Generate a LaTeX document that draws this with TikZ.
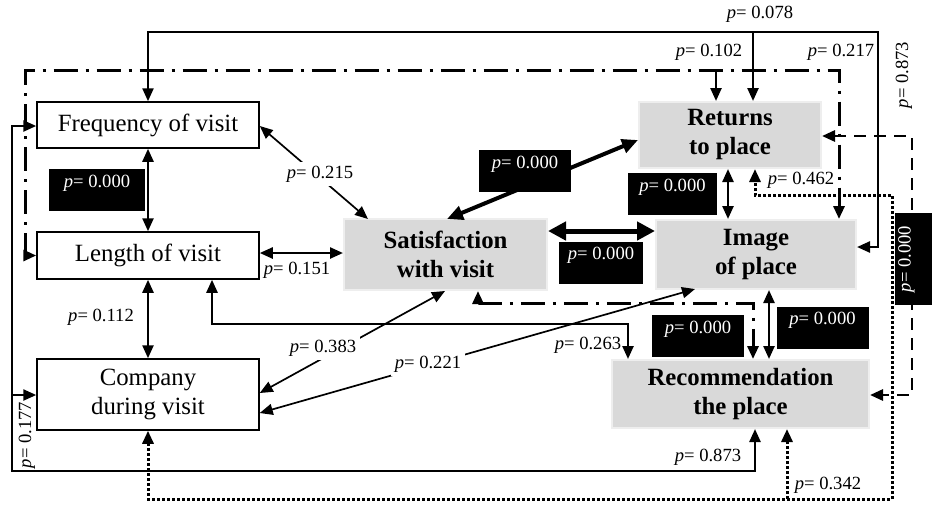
\documentclass[tikz,border=0pt]{standalone}
\usepackage{fontspec}
\setmainfont{Liberation Serif}
\usetikzlibrary{arrows.meta}
\definecolor{boxgray}{RGB}{217,217,217}
\definecolor{edgegray}{RGB}{238,238,238}
\begin{document}
\begin{tikzpicture}[x=0.5pt,y=-0.5pt,
  >={Triangle[length=6.5pt,width=5.5pt]},
  wbox/.style={draw=black, line width=0.75pt, fill=white, align=center, inner sep=0pt,
    font=\fontsize{12.4}{14.5}\selectfont},
  gbox/.style={draw=edgegray, line width=1pt, fill=boxgray, align=center, inner sep=0pt,
    font=\fontsize{12.4}{14.5}\selectfont\bfseries},
  plab/.style={font=\fontsize{9.3}{11}\selectfont, inner sep=1pt},
  wlab/.style={plab, fill=white, inner sep=2pt},
  blab/.style={plab, fill=black, text=white, text height=9pt, text depth=12pt,
    inner xsep=0pt, inner ysep=0pt, minimum width=46pt},
  thinc/.style={line width=0.85pt},
  solc/.style={line width=1.2pt},
  ddash/.style={line width=1.5pt, dash pattern=on 12pt off 4pt on 1.5pt off 4pt},
  dotc/.style={line width=1.5pt, dash pattern=on 1.5pt off 1pt},
  dashc/.style={line width=1.4pt, dash pattern=on 6pt off 4pt},
]
\useasboundingbox (0,0) rectangle (932,505);

% boxes
\node[wbox, minimum width=111pt, minimum height=23pt] (freq) at (148,125) {Frequency of visit};
\node[wbox, minimum width=111pt, minimum height=23.5pt] (length) at (148,255.5) {Length of visit};
\node[wbox, minimum width=111pt, minimum height=35.5pt] (company) at (148,394.5) {Company\\during visit};
\node[gbox, minimum width=101.5pt, minimum height=35.5pt] (sat) at (445.5,254.5) {Satisfaction\\with visit};
\node[gbox, minimum width=91pt, minimum height=33pt] (returns) at (730,135) {Returns\\to place};
\node[gbox, minimum width=100pt, minimum height=34.5pt] (image) at (756,254.5) {Image\\of place};
\node[gbox, minimum width=128.5pt, minimum height=34pt] (rec) at (740.5,394) {Recommendation\\the place};

% top solid line
\coordinate (t1) at (148,32);
\coordinate (t2) at (878,32);
\coordinate (t3) at (753,32);
\coordinate (t4) at (878,247);
\draw[solc,<->] (freq.north) -- (t1) -- (t2) -- (t4) -- (image.east |- t4);
\draw[solc,->] (t3) -- (t3 |- returns.north);
\node[plab] (l078) at (760,14) {\textit{p}= 0.078};
\node[plab, rotate=90] (l873a) at (904,75) {\textit{p}= 0.873};

% dash-dot outer
\coordinate (d1) at (25,255.5);
\coordinate (d2) at (25,70);
\coordinate (d3) at (839,70);
\coordinate (d4) at (716,70);
\draw[ddash,<->] (length.west) -- (d1) -- (d2) -- (d3) -- (d3 |- image.north);
\draw[solc,->] (d4) -- (d4 |- returns.north);
\node[plab] (l102) at (709,52) {\textit{p}= 0.102};
\node[plab] (l217) at (841,52) {\textit{p}= 0.217};

% dash-dot sat - rec
\coordinate (e1) at (478,303);
\coordinate (e2) at (753,303);
\draw[ddash,<->] (e1 |- sat.south) -- (e1) -- (e2) -- (e2 |- rec.north);
\node[blab] (b5) at (698,336) {\textit{p}= 0.000};

% length - rec solid
\coordinate (f1) at (212,324);
\coordinate (f2) at (628,324);
\draw[solc,<->] (f1 |- length.south) -- (f1) -- (f2) -- (f2 |- rec.north);
\node[plab] (l263) at (588,345) {\textit{p}= 0.263};

% bottom solid
\coordinate (g1) at (12,126);
\coordinate (g2) at (12,471);
\coordinate (g3) at (755,471);
\coordinate (g4) at (12,395);
\draw[solc,<->] (freq.west |- g1) -- (g1) -- (g2) -- (g3) -- (g3 |- rec.south);
\draw[solc,->] (g4) -- (company.west |- g4);
\node[plab, rotate=90] (l177) at (27,435) {\textit{p}= 0.177};
\node[plab] (l873b) at (708,457) {\textit{p}= 0.873};

% dotted
\coordinate (h1) at (148,499);
\coordinate (h2) at (892,499);
\coordinate (h3) at (892,195);
\coordinate (h4) at (755,195);
\coordinate (h5) at (787,499);
\draw[dotc,<->] (company.south) -- (h1) -- (h2) -- (h3) -- (h4) -- (h4 |- returns.south);
\draw[dotc,->] (h5) -- (h5 |- rec.south);
\node[plab] (l462) at (801,180) {\textit{p}= 0.462};
\node[plab] (l342) at (828,485) {\textit{p}= 0.342};

% dashed right
\coordinate (k1) at (912,136);
\coordinate (k2) at (912,395);
\draw[dashc,<->] (returns.east |- k1) -- (k1) -- (k2) -- (rec.east |- k2);
\node[blab, rotate=90, text height=8pt, text depth=10.5pt] (b7) at (913,259) {\textit{p}= 0.000};

% straight connectors
\draw[solc,<->] (freq.south) -- (length.north);
\node[blab, minimum width=48pt] (b1) at (97,190) {\textit{p}= 0.000};

\draw[solc,<->] (length.south) -- (company.north);
\node[plab] (l112) at (101,317) {\textit{p}= 0.112};

\coordinate (m1) at (300,253);
\draw[solc,<->] (length.east |- m1) -- (sat.west |- m1);
\node[plab] (l151) at (297,270) {\textit{p}= 0.151};

\coordinate (n1) at (368,219);
\draw[thinc,<->] (n1) -- (freq.east |- 0,126);
\node[wlab] (l215) at (320,174) {\textit{p}= 0.215};

\coordinate (q1) at (447,219);
\draw[line width=2pt,{Triangle[length=8pt,width=7pt]}-{Triangle[length=8pt,width=7pt]}] (q1) -- (returns.west |- 0,140);
\node[blab] (b2) at (525,171) {\textit{p}= 0.000};

\coordinate (r1) at (600,231);
\draw[line width=2.5pt,{Triangle[length=9pt,width=9pt]}-{Triangle[length=9pt,width=9pt]}] (sat.east |- r1) -- (image.west |- r1);
\node[blab, minimum width=42pt] (b3) at (601,262.5) {\textit{p}= 0.000};

\coordinate (s1) at (728,200);
\draw[solc,<->] (s1 |- returns.south) -- (s1 |- image.north);
\node[blab, minimum width=44.5pt] (b4) at (672.5,194) {\textit{p}= 0.000};

\coordinate (u1) at (769,320);
\draw[solc,<->] (u1 |- image.south) -- (u1 |- rec.north);
\node[blab] (b6) at (822.5,327.5) {\textit{p}= 0.000};

\coordinate (v1) at (445,291);
\draw[thinc,<->] (v1) -- (company.east |- 0,393);
\node[wlab] (l383) at (323,348) {\textit{p}= 0.383};

\coordinate (w1) at (695,289);
\draw[thinc,<->] (company.east |- 0,413) -- (w1);
\node[wlab] (l221) at (428,364) {\textit{p}= 0.221};
\end{tikzpicture}
\end{document}
